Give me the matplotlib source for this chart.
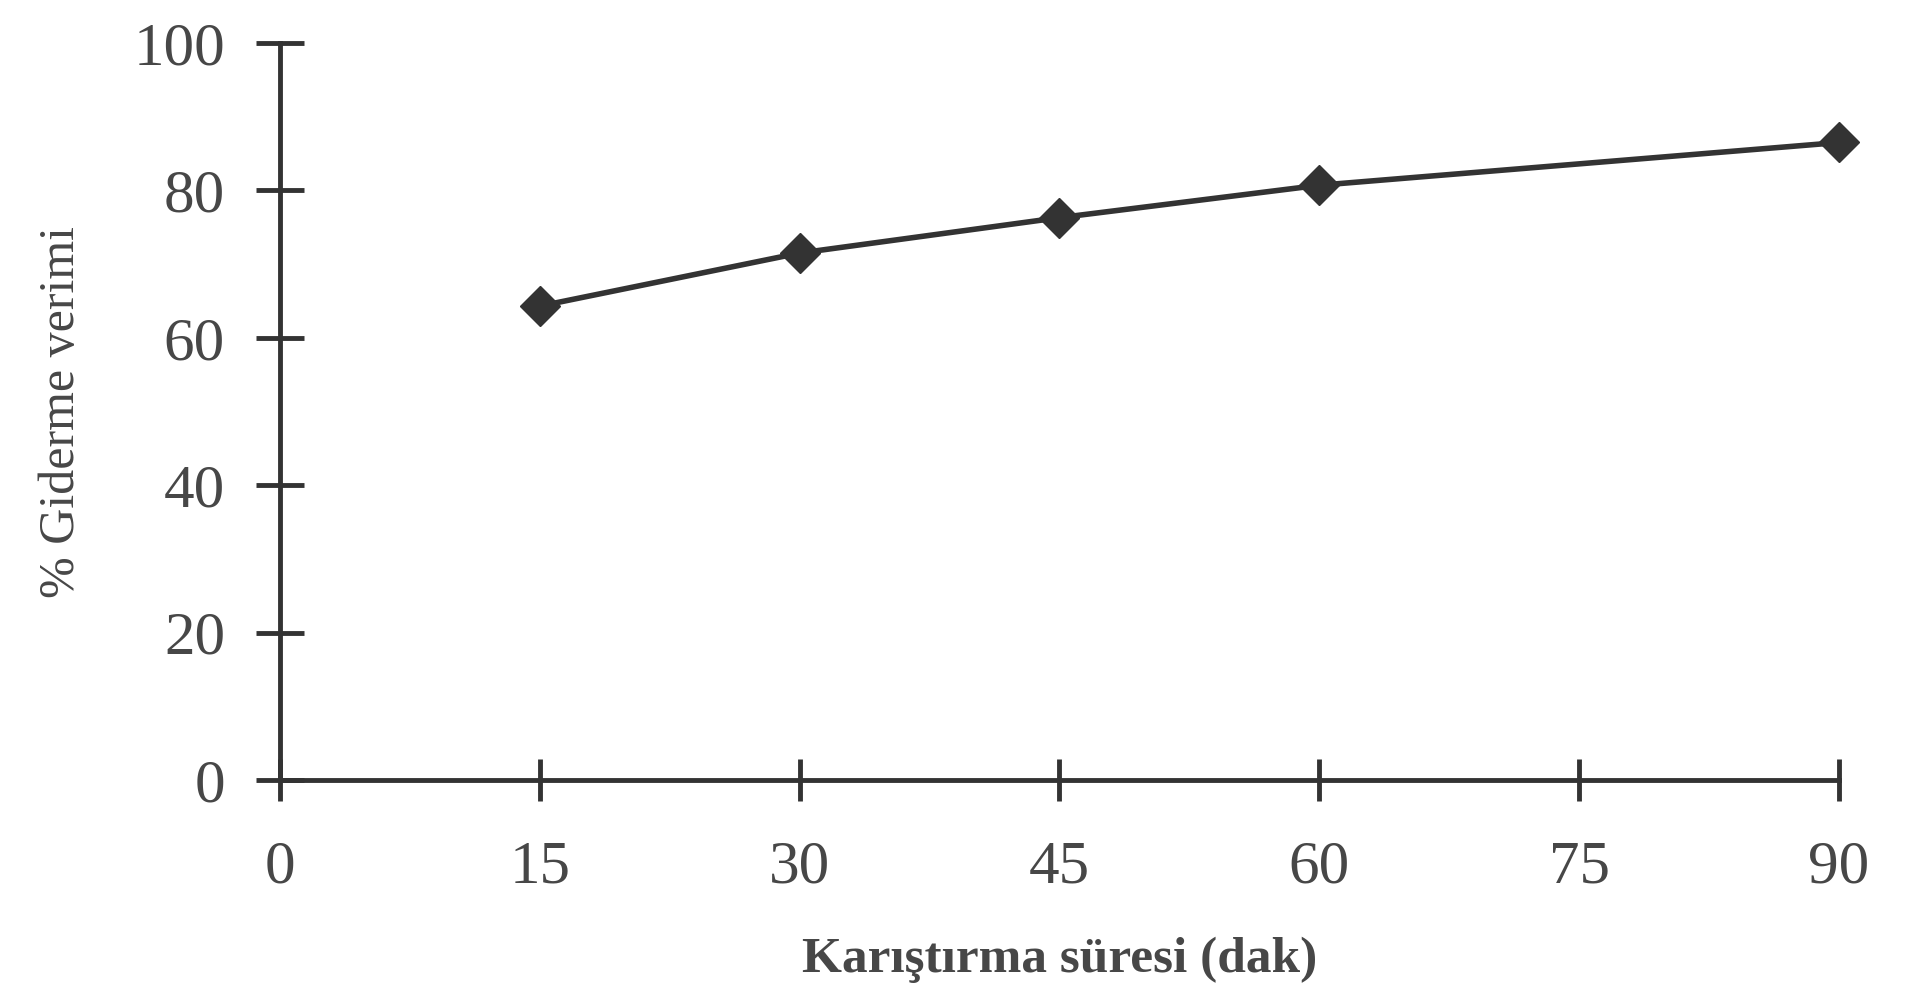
import matplotlib.pyplot as plt

# karıştırma süresi (dak) vs % giderme verimi
sure = [15, 30, 45, 60, 90]
verim = [64.3, 71.5, 76.3, 80.7, 86.5]
x_ticks = [0, 15, 30, 45, 60, 75, 90]
y_ticks = [0, 20, 40, 60, 80, 100]

ink = '#333333'
txt = '#474747'
plt.rcParams['font.family'] = ['Liberation Serif', 'DejaVu Serif']

fig = plt.figure(figsize=(19.15, 10), dpi=100)
ax = fig.add_axes([0.1462, 0.22, 0.8141, 0.737])

ax.plot(sure, verim, color=ink, lw=4, marker='D', markersize=20,
        markerfacecolor=ink, markeredgecolor=ink, clip_on=False)

ax.set_xlim(0, 90)
ax.set_ylim(0, 100)
ax.set_xticks(x_ticks)
ax.set_yticks(y_ticks)

for side in ['top', 'right']:
    ax.spines[side].set_visible(False)
for side in ['left', 'bottom']:
    ax.spines[side].set_linewidth(3.5)
    ax.spines[side].set_color(ink)

ax.tick_params(axis='x', direction='inout', length=30, width=3.5, color=ink,
               pad=28, labelsize=44, labelcolor=txt)
ax.tick_params(axis='y', direction='inout', length=35, width=3.5, color=ink,
               pad=22, labelsize=44, labelcolor=txt)

ax.set_xlabel('Karıştırma süresi (dak)', fontsize=37, fontweight='bold',
              color=txt, labelpad=30)
ax.set_ylabel('% Giderme verimi', fontsize=36, color=txt, labelpad=35)

fig.savefig('out.png', dpi=100, facecolor='white')
